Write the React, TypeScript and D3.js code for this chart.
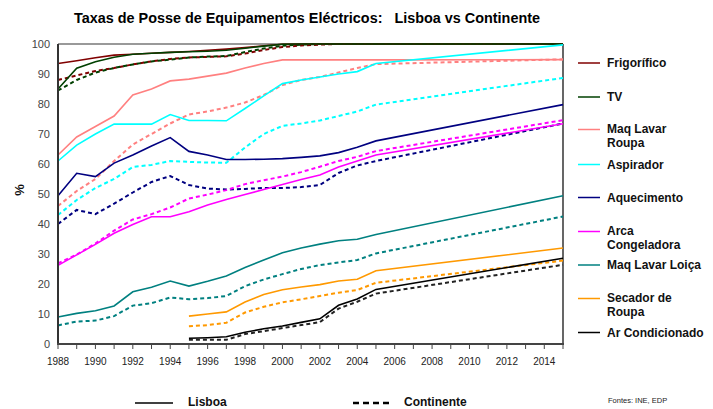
import React from "react";
import * as d3 from "d3";

const years = [1988,1989,1990,1991,1992,1993,1994,1995,1996,1997,1998,1999,2000,2001,2002,2003,2004,2005,2015];
const xTicks = d3.range(1988, 2016, 1);
const xLabels = d3.range(1988, 2015, 2);
const yTicks = [0,10,20,30,40,50,60,70,80,90,100];

type V = number | null;
const frigoL: V[] = [93.5,94.4,95.4,96.3,96.6,96.9,97.2,97.5,97.9,98.3,98.8,99.4,99.9,100,100,100,100,100,100];
const frigoC: V[] = [88,89.5,91,92,93.2,94.2,95,95.5,95.7,95.9,96.8,98,99,99.5,99.8,100,100,100,100];
const tvL: V[] = [85,91.9,94.1,95.6,96.6,96.9,97.2,97.4,97.6,97.9,98.6,99.3,99.9,100,100,100,100,100,100];
const tvC: V[] = [84.5,88,90.5,92,93.2,94.2,94.8,95.5,95.8,96,97.3,98.5,99.4,99.8,100,100,100,100,100];
const mlrL: V[] = [63,69,72.5,76,83,85,87.7,88.3,89.3,90.3,92,93.5,94.7,94.7,94.7,94.7,94.7,94.7,94.8];
const mlrC: V[] = [46,51,55,61,66.5,70,73.5,76.5,77.5,78.8,80.5,83,86.3,88,89,90.5,92,93.3,94.9];
const aspL: V[] = [61,66.3,70,73.3,73.3,73.3,76.5,74.5,74.5,74.4,78.5,82.7,86.8,88,89,90,90.8,93.5,99.7];
const aspC: V[] = [43,48,52,55,59,59.7,61,60.7,60.5,60.4,65.5,70,72.7,73.5,74.5,76,77.5,79.8,88.7];
const aqL: V[] = [49.4,56.9,55.8,60.3,63,66,68.8,64.2,63,61.5,61.5,61.6,61.8,62.2,62.7,63.8,65.6,67.7,79.8];
const aqC: V[] = [40,44.7,43.3,46.8,50.5,54,56,53,51.8,51.5,51.7,52,52,52.3,53,57,59.5,61,73.5];
const arcaL: V[] = [26.2,29.7,33.2,36.9,39.8,42.4,42.4,44.1,46.3,48.2,49.8,51.5,53.2,54.8,56.3,59,61,63,73.4];
const arcaC: V[] = [26.9,29.8,33.5,37.8,41.5,43.3,45.5,48.5,49.8,51.3,53.3,54.6,55.8,57.3,59.1,61,62.4,64.3,74.6];
const mllL: V[] = [9,10.2,11.1,12.7,17.4,18.9,21,19.3,20.9,22.7,25.5,28,30.4,32,33.3,34.4,34.9,36.5,49.4];
const mllC: V[] = [6.2,7.5,7.8,9.3,12.8,13.6,15.5,14.9,15.3,16,19.3,21.5,23.3,25,26.3,27.2,28,30.2,42.5];
const secL: V[] = [null,null,null,null,null,null,null,9.3,10,10.7,14,16.5,18.1,19,19.8,21,21.6,24.4,32];
const secC: V[] = [null,null,null,null,null,null,null,5.9,6.3,7.1,10.5,12.4,13.9,14.9,16,17.1,18,20.4,27.8];
const arL: V[] = [null,null,null,null,null,null,null,1.9,2.1,2.4,3.9,5.1,6,7.2,8.4,12.9,15,18.2,28.6];
const arC: V[] = [null,null,null,null,null,null,null,1.4,1.4,1.4,3.3,4.3,5.3,6.3,7.3,11.8,14.1,16.8,26.4];

const names = ["Frigorífico","TV","Maq Lavar|Roupa","Aspirador","Aquecimento","Arca|Congeladora","Maq Lavar Loiça","Secador de|Roupa","Ar Condicionado"];
const colors = ["#800000","#004000","#ff8080","#00ffff","#000080","#ff00ff","#008080","#ff9900","#000000"];
const lisboa = [frigoL,tvL,mlrL,aspL,aqL,arcaL,mllL,secL,arL];
const continente = [frigoC,tvC,mlrC,aspC,aqC,arcaC,mllC,secC,arC];
const legendY = [63,97,129.5,164.5,197.5,231.5,265,298.5,332.5];

const title = "Taxas de Posse de Equipamentos Eléctricos:   Lisboa vs Continente";
const FONT = "'Liberation Sans', Arial, sans-serif";

export default function App() {
  const x = d3.scaleLinear().domain([1988, 2015]).range([58, 563]);
  const y = d3.scaleLinear().domain([0, 100]).range([344, 44]);
  const line = (vals: V[]) =>
    d3.line<number>()
      .defined((_, i) => vals[i] != null)
      .x((_, i) => x(years[i]))
      .y((_, i) => y(vals[i] as number))(years.map((_, i) => i)) || "";

  return (
    <svg width={713} height={409} style={{ position: "absolute", left: 0, top: 0, background: "#fff" }} fontFamily={FONT}>
      <rect width={713} height={409} fill="#fff" />
      <text x={307} y={23} textAnchor="middle" fontSize={14.4} fontWeight="bold" fill="#000" style={{ whiteSpace: "pre" }}>{title}</text>
      {/* frame */}
      <line x1={58} x2={563} y1={y(100)} y2={y(100)} stroke="#999" strokeWidth={2} />
      <line x1={563} x2={563} y1={y(100)} y2={y(0)} stroke="#000" strokeWidth={1.2} />
      {/* y labels */}
      {yTicks.map(t => (
        <text key={t} x={50} y={y(t) + 4} textAnchor="end" fontSize={11} fill="#444">{t}</text>
      ))}
      <text transform={`translate(24,190) rotate(-90)`} textAnchor="middle" fontSize={13} fontWeight="bold" fill="#111">%</text>
      {/* x ticks */}
      {xTicks.map(t => (
        <line key={t} x1={x(t)} x2={x(t)} y1={y(0)} y2={y(0) + 5} stroke="#444" strokeWidth={1} />
      ))}
      {xLabels.map(t => (
        <text key={t} x={x(t)} y={365} textAnchor="middle" fontSize={10} fill="#222">{t}</text>
      ))}
      {/* series */}
      {continente.map((s, i) => (
        <path key={"c" + i} d={line(s)} fill="none" stroke={i === 8 ? "#222" : colors[i]} strokeWidth={2} strokeDasharray="4,3" />
      ))}
      {lisboa.map((s, i) => (
        <path key={"l" + i} d={line(s)} fill="none" stroke={colors[i]} strokeWidth={1.6} />
      ))}
      {/* axes */}
      <line x1={58} x2={58} y1={y(100)} y2={y(0)} stroke="#333" strokeWidth={2} />
      <line x1={57} x2={564} y1={y(0)} y2={y(0)} stroke="#444" strokeWidth={2} />
      {/* legend */}
      {names.map((n, i) => {
        const parts = n.split("|");
        return (
          <g key={n}>
            <line x1={578} x2={600} y1={legendY[i]} y2={legendY[i]} stroke={colors[i]} strokeWidth={1.5} />
            {parts.map((p, j) => (
              <text key={j} x={607} y={legendY[i] + 4 + j * 14 + (parts.length > 1 ? -1 : 0)} fontSize={12} fontWeight="bold" fill="#111">{p}</text>
            ))}
          </g>
        );
      })}
      <text x={608} y={403} fontSize={7.5} fill="#222">Fontes: INE, EDP</text>
      {/* bottom legend */}
      <line x1={135} x2={173} y1={403} y2={403} stroke="#000" strokeWidth={1.5} />
      <text x={188} y={406} fontSize={12} fontWeight="bold" fill="#111">Lisboa</text>
      <line x1={353} x2={392} y1={403} y2={403} stroke="#000" strokeWidth={2.5} strokeDasharray="6,4" />
      <text x={404} y={406} fontSize={12} fontWeight="bold" fill="#111">Continente</text>
    </svg>
  );
}
